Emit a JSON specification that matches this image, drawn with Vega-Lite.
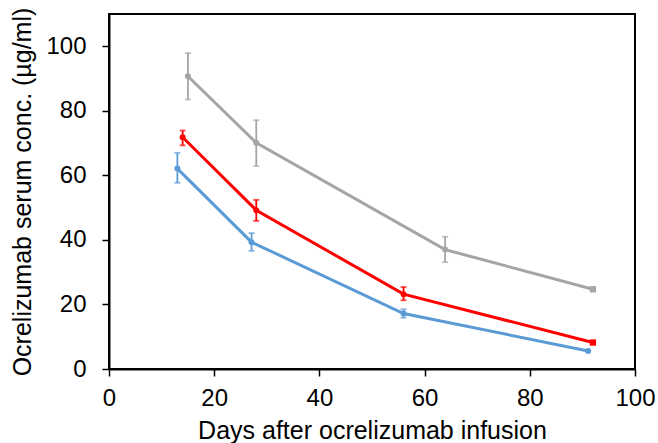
{
  "$schema": "https://vega.github.io/schema/vega-lite/v6.json",
  "width": 526,
  "height": 355,
  "autosize": "none",
  "padding": {"left": 109, "top": 14, "right": 23, "bottom": 74},
  "background": "white",
  "config": {
    "view": {"stroke": "black", "strokeWidth": 2},
    "font": "Liberation Sans",
    "axis": {
      "grid": false,
      "domainColor": "black",
      "domainWidth": 2,
      "tickColor": "black",
      "tickWidth": 1.5,
      "tickSize": 7,
      "labelFont": "Liberation Sans",
      "labelFontSize": 24,
      "labelColor": "black",
      "labelFlush": false,
      "titleFont": "Liberation Sans",
      "titleFontSize": 25,
      "titleFontWeight": "normal",
      "titleColor": "black"
    }
  },
  "data": {
    "values": [
      {"series": "A", "day": 13.0, "mean": 62.1, "lo": 57.7, "hi": 67.0},
      {"series": "A", "day": 27.1, "mean": 39.3, "lo": 36.6, "hi": 42.1},
      {"series": "A", "day": 56.0, "mean": 17.2, "lo": 15.9, "hi": 18.5},
      {"series": "A", "day": 91.1, "mean": 5.6},
      {"series": "B", "day": 14.0, "mean": 71.8, "lo": 69.3, "hi": 73.9},
      {"series": "B", "day": 28.0, "mean": 49.2, "lo": 45.9, "hi": 52.4},
      {"series": "B", "day": 56.0, "mean": 23.2, "lo": 21.3, "hi": 25.4},
      {"series": "B", "day": 92.0, "mean": 8.2},
      {"series": "C", "day": 15.0, "mean": 90.7, "lo": 83.5, "hi": 97.9},
      {"series": "C", "day": 28.0, "mean": 70.1, "lo": 62.9, "hi": 77.1},
      {"series": "C", "day": 63.9, "mean": 37.0, "lo": 33.1, "hi": 41.0},
      {"series": "C", "day": 92.0, "mean": 24.7}
    ]
  },
  "encoding": {
    "x": {
      "field": "day",
      "type": "quantitative",
      "scale": {"domain": [0, 100], "nice": false},
      "axis": {
        "values": [0, 20, 40, 60, 80, 100],
        "title": "Days after ocrelizumab infusion",
        "labelPadding": 10,
        "titlePadding": 8
      }
    },
    "color": {
      "field": "series",
      "type": "nominal",
      "scale": {"domain": ["A", "B", "C"], "range": ["#5B9BD5", "#FF0000", "#A5A5A5"]},
      "legend": null
    }
  },
  "layer": [
    {
      "mark": {"type": "line", "strokeWidth": 3},
      "encoding": {
        "y": {
          "field": "mean",
          "type": "quantitative",
          "title": "Ocrelizumab serum conc. (µg/ml)",
          "scale": {"domain": [0, 110], "nice": false},
          "axis": {
            "values": [0, 20, 40, 60, 80, 100],
            "title": "Ocrelizumab serum conc. (µg/ml)",
            "labelPadding": 16,
            "titlePadding": 10
          }
        }
      }
    },
    {
      "transform": [{"filter": "datum.lo != null"}],
      "mark": {"type": "errorbar", "ticks": {"size": 6}, "thickness": 1.8},
      "encoding": {
        "y": {"field": "lo", "type": "quantitative", "title": "Ocrelizumab serum conc. (µg/ml)"},
        "y2": {"field": "hi"}
      }
    },
    {
      "transform": [{"filter": "!(datum.day > 90 && datum.series != 'A')"}],
      "mark": {"type": "point", "filled": true, "opacity": 1, "shape": "circle", "size": 36},
      "encoding": {"y": {"field": "mean", "type": "quantitative", "title": "Ocrelizumab serum conc. (µg/ml)"}}
    },
    {
      "transform": [{"filter": "datum.day > 90 && datum.series != 'A'"}],
      "mark": {"type": "point", "filled": true, "opacity": 1, "shape": "square", "size": 40},
      "encoding": {"y": {"field": "mean", "type": "quantitative", "title": "Ocrelizumab serum conc. (µg/ml)"}}
    }
  ]
}
